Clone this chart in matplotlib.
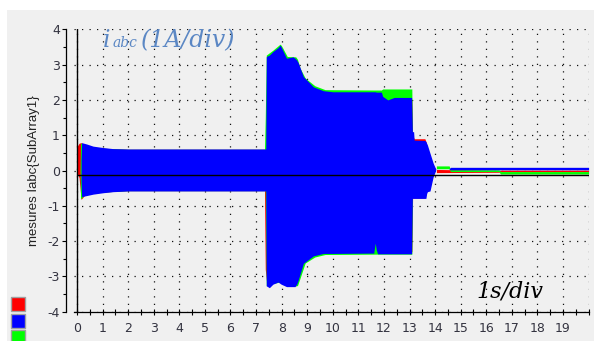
import matplotlib
matplotlib.use("Agg")
import matplotlib.pyplot as plt
from matplotlib.ticker import MultipleLocator, FixedLocator
from matplotlib.patches import Rectangle

# ---------------- data ----------------
# envelope (max / min) of each phase current, A, versus time, s
blue_t = [0.16, 0.18, 0.38, 0.63, 1.02, 1.41, 2.0, 2.3, 7.38, 7.40, 7.43, 7.52, 7.66, 7.86, 7.94, 7.98,
          8.19, 8.45, 8.52, 8.59, 8.65, 8.85, 9.24, 9.63, 10.0, 11.60, 11.63, 11.66, 11.70, 11.75,
          11.90, 11.95, 12.15, 12.40, 13.08, 13.11, 13.16, 13.18, 13.60, 13.64, 13.67, 13.70, 13.80,
          13.92, 13.93, 14.02]
blue_hi = [0.30, 0.79, 0.75, 0.69, 0.65, 0.62, 0.61, 0.61, 0.61, 3.22, 3.24, 3.27, 3.37, 3.48, 3.55, 3.50,
           3.18, 3.22, 3.18, 3.13, 3.05, 2.66, 2.37, 2.26, 2.23, 2.23, 2.23, 2.23, 2.22, 2.22,
           2.22, 2.10, 2.00, 2.07, 2.07, 1.10, 1.10, 0.86, 0.85, 0.82, 0.77, 0.72, 0.49,
           0.22, 0.20, 0.05]
blue_lo = [-0.30, -0.74, -0.71, -0.67, -0.63, -0.60, -0.58, -0.58, -0.58, -3.27, -3.28, -3.32, -3.22, -3.16,
           -3.20, -3.22, -3.29, -3.29, -3.29, -3.22, -3.10, -2.63, -2.42, -2.35, -2.35, -2.34, -2.20,
           -2.06, -2.25, -2.36, -2.36, -2.36, -2.36, -2.36, -2.36, -0.79, -0.79, -0.79, -0.79, -0.79,
           -0.65, -0.60, -0.58, -0.19, -0.17, 0.0]

green_t = [0.12, 0.14, 0.30, 0.60, 1.00, 2.00, 7.33, 7.36, 7.40, 7.66, 7.94, 7.99, 8.22, 8.55, 8.62, 8.72,
           8.92, 9.30, 9.70, 11.60, 11.90, 11.95, 13.09, 13.11, 13.60]
green_hi = [0.00, 0.78, 0.70, 0.67, 0.63, 0.60, 0.60, 1.50, 3.27, 3.41, 3.58, 3.54, 3.23, 3.22, 3.15, 2.90,
            2.62, 2.40, 2.29, 2.28, 2.28, 2.31, 2.31, 0.80, 0.80]
green_lo = [0.00, -0.80, -0.69, -0.65, -0.61, -0.57, -0.57, -0.58, -3.26, -3.20, -3.16, -3.18, -3.27, -3.27,
            -3.26, -3.05, -2.62, -2.45, -2.38, -2.37, -2.37, -2.37, -2.37, -0.76, -0.76]

red_t = [0.00, 0.02, 0.08, 0.16, 0.30, 0.60, 1.00, 2.00, 7.33, 7.36, 7.39, 7.42, 7.94, 8.20, 8.55, 8.85,
         9.24, 9.70, 13.05, 13.09, 13.12, 13.18, 13.60, 13.66, 13.72]
red_hi = [0.55, 0.70, 0.77, 0.79, 0.70, 0.66, 0.63, 0.60, 0.60, 0.60, 0.60, 3.20, 3.50, 3.10, 3.10, 2.60,
          2.30, 2.20, 2.00, 2.00, 1.00, 0.90, 0.90, 0.78, 0.50]
red_lo = [-0.05, -0.10, -0.20, -0.82, -0.70, -0.65, -0.61, -0.57, -0.57, -2.80, -3.00, -3.20, -3.15, -3.20,
          -3.20, -2.60, -2.40, -2.30, -2.30, -2.30, -0.78, -0.78, -0.78, -0.60, -0.50]

# small residual currents after the stop (t > 14 s)
blue_tail_t = [14.55, 14.60, 20.0]
blue_tail_hi = [0.05, 0.09, 0.09]
blue_tail_lo = [0.03, 0.02, 0.02]
red_tail_t = [14.05, 16.50, 16.55, 20.0]
red_tail_hi = [0.03, 0.00, 0.01, 0.01]
red_tail_lo = [-0.06, -0.05, -0.03, -0.03]
green_tail_t = [14.05, 14.55, 14.60, 16.50, 16.55, 20.0]
green_tail_hi = [0.13, 0.13, 0.02, 0.02, -0.03, -0.03]
green_tail_lo = [0.05, 0.05, -0.03, -0.03, -0.10, -0.10]

baseline_level = -0.13          # black reference trace
x_labels = [str(i) for i in range(20)]
y_labels = ["-4", "-3", "-2", "-1", "0", "1", "2", "3", "4"]

# ---------------- figure ----------------
W, H = 594, 341
plt.rcParams["axes.unicode_minus"] = False
fig = plt.figure(figsize=(W / 100, H / 100), dpi=100)
fig.patch.set_facecolor("#f0f0f0")
# white strips at the top and left edge of the screenshot
fig.patches.append(Rectangle((0, 1 - 10 / H), 1, 10 / H, transform=fig.transFigure,
                             facecolor="white", edgecolor="none", zorder=0))
fig.patches.append(Rectangle((0, 0), 7 / W, 1, transform=fig.transFigure,
                             facecolor="white", edgecolor="none", zorder=0))

ax_l, ax_r, ax_t, ax_b = 74, 588.6, 29.3, 311.7
ax = fig.add_axes([ax_l / W, 1 - ax_b / H, (ax_r - ax_l) / W, (ax_b - ax_t) / H])
ax.set_facecolor("#f0f0f0")
ax.set_xlim(-0.117, 20.0)
ax.set_ylim(-4, 4)

# envelopes
ax.fill_between(red_t, red_lo, red_hi, color="#ff0000", lw=0, zorder=2)
ax.fill_between(green_t, green_lo, green_hi, color="#00ff00", lw=0, zorder=3)
ax.fill_between(blue_t, blue_lo, blue_hi, color="#0000ff", lw=0, zorder=4)
ax.fill_between(red_tail_t, red_tail_lo, red_tail_hi, color="#ff0000", lw=0, zorder=2)
ax.fill_between(green_tail_t, green_tail_lo, green_tail_hi, color="#00ff00", lw=0, zorder=3)
ax.fill_between(blue_tail_t, blue_tail_lo, blue_tail_hi, color="#0000ff", lw=0, zorder=4)

ax.hlines(baseline_level, 0, 20, color="black", lw=1.0, zorder=6)
ax.axvline(0, color="black", lw=1.0, zorder=6)

# grid
ax.set_axisbelow(True)
ax.grid(True, which="major", color="#111111", lw=0.9, linestyle=(0, (1, 5)))

# spines
for s in ("top", "right"):
    ax.spines[s].set_visible(False)
ax.spines["left"].set_position(("outward", 6.1))
for s in ("left", "bottom"):
    ax.spines[s].set_color("black")
    ax.spines[s].set_linewidth(0.9)

ax.xaxis.set_major_locator(FixedLocator(range(20)))
ax.set_xticklabels(x_labels)
ax.xaxis.set_minor_locator(FixedLocator([i * 0.5 for i in range(1, 41) if i % 2 == 1] + [20]))
ax.set_yticks(range(-4, 5))
ax.set_yticklabels(y_labels)
ax.yaxis.set_minor_locator(MultipleLocator(0.5))

ax.tick_params(axis="x", which="both", direction="inout", length=4.5, width=0.8, color="black",
               labelsize=9, labelcolor="#333340", pad=5)
ax.tick_params(axis="y", which="major", direction="out", length=3, width=0.8, color="black",
               labelsize=9, labelcolor="#333340", pad=1)
ax.tick_params(axis="y", which="minor", direction="out", length=2.2, width=0.8, color="black")
ax.grid(False, which="minor")
# vertical grid line at 20 s (right edge)
ax.vlines(20, -4, 4, color="#111111", lw=0.9, linestyles=[(0, (1, 5))], zorder=0.5)

ax.set_ylabel("mesures Iabc{SubArray1}", fontsize=9.5, family="Liberation Sans", color="#222222")
ax.yaxis.set_label_coords(-0.067, 0.5)

# annotations
def fx(px):
    return px / W

def fy(py):
    return 1 - py / H

blue_txt = "#5b87c4"
fig.text(fx(103), fy(47), "i", fontsize=17, family="DejaVu Serif", style="italic",
         color=blue_txt, va="baseline")
fig.text(fx(113), fy(47), "abc", fontsize=10, family="DejaVu Serif", style="italic",
         color=blue_txt, va="baseline")
fig.text(fx(141), fy(47), "(1A/div)", fontsize=17, family="DejaVu Serif", style="italic",
         color=blue_txt, va="baseline")
fig.text(fx(476), fy(298), "1s/div", fontsize=16, family="DejaVu Serif", style="italic",
         color="black", va="baseline")

# legend colour squares
for py, col in ((297, "#ff0000"), (313.5, "#0000ff"), (330, "#00ff00")):
    fig.patches.append(Rectangle((fx(11), fy(py + 14)), 14 / W, 14 / H, transform=fig.transFigure,
                                 facecolor=col, edgecolor="#a0a0a0", lw=1.0, zorder=5))

fig.savefig("out.png", dpi=100, facecolor=fig.get_facecolor())
